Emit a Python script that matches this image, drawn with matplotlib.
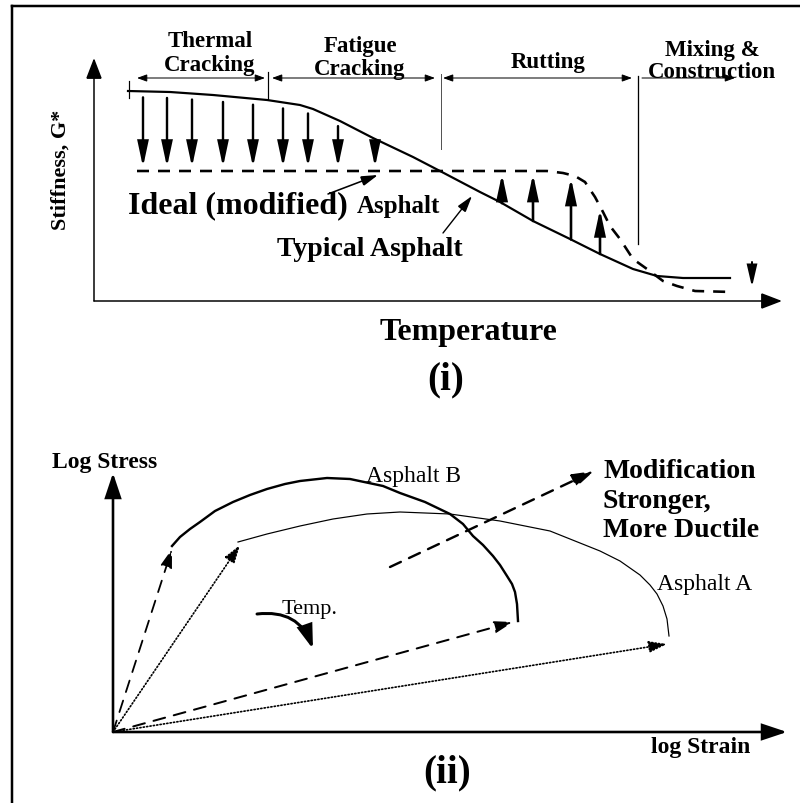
import matplotlib.pyplot as plt
import numpy as np
from matplotlib.patches import FancyArrowPatch

plt.rcParams["font.family"] = ["Liberation Serif", "DejaVu Serif"]
plt.rcParams["lines.scale_dashes"] = False

# ---- panel (i): stiffness vs temperature (figure pixel units) ----
typical_x = [128, 170, 213, 267, 300, 313, 340, 373, 413, 440, 480, 500, 533, 570, 600, 633, 657, 683, 730]
typical_y = [92, 93, 96, 101, 106, 110, 122, 139, 158, 172, 193, 203, 222, 240, 255, 270, 277, 279, 279]
ideal_x = [137, 547, 563, 575, 585, 595, 603, 610, 620, 633, 647, 663, 677, 695, 733]
ideal_y = [172, 172, 174, 177, 183, 198, 213, 227, 240, 260, 270, 282, 287, 292, 293]
down_arrow_x = [143, 167, 192, 223, 253, 283, 308, 338, 375]
up_arrow_x = [502, 533, 571, 600]

# (first line, baseline), (second line, baseline), centre x
zone_labels = [
    ("Thermal", 47, "Cracking", 71, 210),
    ("Fatigue", 52, "Cracking", 75, 360),
    ("", 0, "Rutting", 68, 548),
    ("Mixing &", 56, "Construction", 78, 712),
]
zone_spans = [(137, 265), (272, 435), (443, 632), (642, 735)]

# ---- panel (ii): log stress vs log strain ----
asphalt_b_x = [172, 180, 190, 200, 215, 233, 250, 267, 285, 300, 327, 350, 383, 400, 425, 450, 463, 473, 483, 493, 500, 507, 512, 515, 517, 518]
asphalt_b_y = [547, 538, 530, 523, 512, 503, 496, 490, 485, 482, 479, 480, 487, 494, 503, 515, 525, 537, 546, 557, 566, 577, 585, 593, 605, 622]
asphalt_a_x = [238, 267, 300, 333, 367, 400, 450, 500, 550, 600, 620, 640, 650, 657, 663, 667, 669]
asphalt_a_y = [543, 535, 527, 520, 515, 513, 515, 522, 532, 552, 562, 576, 586, 595, 607, 620, 637]

PX = 0.72  # points per pixel at dpi=100
DASH = (0, (12 * PX, 9 * PX))
DOT = (0, (1.2 * PX, 2.2 * PX))

fig = plt.figure(figsize=(8, 8.04), dpi=100)
ax = fig.add_axes([0, 0, 1, 1])
ax.set_xlim(0, 800)
ax.set_ylim(804, 0)
ax.axis("off")


def arrow(p0, p1, lw=1.5, style="-|>", hl=1.0, hw=0.4, ms=10, ls="-", conn="arc3"):
    ax.add_patch(FancyArrowPatch(
        p0, p1, arrowstyle=f"{style},head_length={hl},head_width={hw}",
        mutation_scale=ms, lw=lw * PX, linestyle=ls, color="black",
        shrinkA=0, shrinkB=0, connectionstyle=conn, joinstyle="miter",
    ))


bold = dict(fontweight="bold", color="black")

# frame
ax.plot([12, 800], [7, 7], color="black", lw=2.5 * PX)
ax.plot([12, 12], [7, 804], color="black", lw=2.5 * PX)

# axes of panel (i)
arrow((94, 302), (94, 59), lw=1.5, hl=1.3, hw=0.5)
arrow((94, 302), (782, 302), lw=1.5, hl=1.3, hw=0.5)

# zone brackets and labels
for (top, top_y, bottom, bottom_y, cx), (x0, x1) in zip(zone_labels, zone_spans):
    style = "-|>" if top.startswith("Mixing") else "<|-|>"
    arrow((x0, 79), (x1, 79), lw=1.0, style=style, hl=0.6, hw=0.22)
    if top:
        ax.text(cx, top_y, top, ha="center", va="baseline", fontsize=16.5, **bold)
    ax.text(cx, bottom_y, bottom, ha="center", va="baseline", fontsize=16.5, **bold)
ax.plot([129, 129], [82, 99], color="black", lw=1.2 * PX)
ax.plot([268, 268], [73, 100], color="black", lw=1.2 * PX)
ax.plot([441, 441], [75, 150], color="#555555", lw=1.0 * PX)
ax.plot([638, 638], [77, 245], color="black", lw=1.3 * PX)

# stiffness curves
ax.plot(typical_x, typical_y, color="black", lw=2.2 * PX, solid_joinstyle="round")
ax.plot(ideal_x, ideal_y, color="black", lw=2.6 * PX, linestyle=DASH)

for x in down_arrow_x:
    y0 = np.interp(x, typical_x, typical_y) + 6
    arrow((x, y0), (x, 168), lw=2.4, hl=1.5, hw=0.32)
for x in up_arrow_x:
    y0 = np.interp(x, typical_x, typical_y)
    y1 = np.interp(x, ideal_x, ideal_y) + 3
    arrow((x, y0), (x, y1), lw=2.6, hl=1.5, hw=0.32)
arrow((752, 263), (752, 288), lw=2.0, hl=1.3, hw=0.3)

ax.text(128, 213, "Ideal (modified)", ha="left", va="baseline", fontsize=23, **bold)
ax.text(357, 213, "Asphalt", ha="left", va="baseline", fontsize=18, **bold)
arrow((328, 195), (378, 176), lw=1.6, hl=1.0, hw=0.3)
ax.text(370, 256, "Typical Asphalt", ha="center", va="baseline", fontsize=20, **bold)
arrow((443, 234), (472, 197), lw=1.4, hl=1.0, hw=0.3)

ax.text(61, 170, "Stiffness, G*", ha="center", va="center", rotation=90, fontsize=16, **bold)
ax.text(469, 333, "Temperature", ha="center", va="center", fontsize=23, **bold)
ax.text(446, 380, "(i)", ha="center", va="center", fontsize=28, **bold)

# axes of panel (ii)
origin = (113, 733)
arrow(origin, (113, 474), lw=2.6, hl=1.5, hw=0.5)
arrow(origin, (787, 733), lw=2.6, hl=1.5, hw=0.5)

ax.plot(asphalt_b_x, asphalt_b_y, color="black", lw=2.4 * PX, solid_joinstyle="round")
ax.plot(asphalt_a_x, asphalt_a_y, color="black", lw=1.2 * PX, solid_joinstyle="round")

arrow(origin, (asphalt_b_x[0], asphalt_b_y[0] + 3), lw=1.8, ls=DASH, hl=1.1, hw=0.35)
arrow(origin, (asphalt_a_x[0] + 2, asphalt_a_y[0] + 3), lw=1.7, ls=DOT, hl=1.1, hw=0.35)
arrow(origin, (asphalt_b_x[-1] - 5, asphalt_b_y[-1] + 1), lw=2.0, ls=DASH, hl=1.1, hw=0.35)
arrow(origin, (asphalt_a_x[-1] - 2, asphalt_a_y[-1] + 8), lw=1.7, ls=DOT, hl=1.1, hw=0.35)

arrow((390, 568), (594, 472), lw=2.4, ls=DASH, hl=1.3, hw=0.4)
arrow((257, 615), (313, 650), lw=3.0, hl=1.4, hw=0.45, conn="arc3,rad=-0.4")

ax.text(105, 463, "Log Stress", ha="center", va="center", fontsize=17, **bold)
ax.text(413, 477, "Asphalt B", ha="center", va="center", fontsize=17, color="black")
ax.text(705, 585, "Asphalt A", ha="center", va="center", fontsize=17, color="black")
ax.text(310, 610, "Temp.", ha="center", va="center", fontsize=16, color="black")
ax.text(603, 478, "Modification", ha="left", va="baseline", fontsize=20, **bold)
ax.text(603, 508, "Stronger,", ha="left", va="baseline", fontsize=20, **bold)
ax.text(603, 537, "More Ductile", ha="left", va="baseline", fontsize=20, **bold)
ax.text(701, 748, "log Strain", ha="center", va="center", fontsize=17, **bold)
ax.text(447, 773, "(ii)", ha="center", va="center", fontsize=28, **bold)

fig.savefig("out.png", dpi=100)
